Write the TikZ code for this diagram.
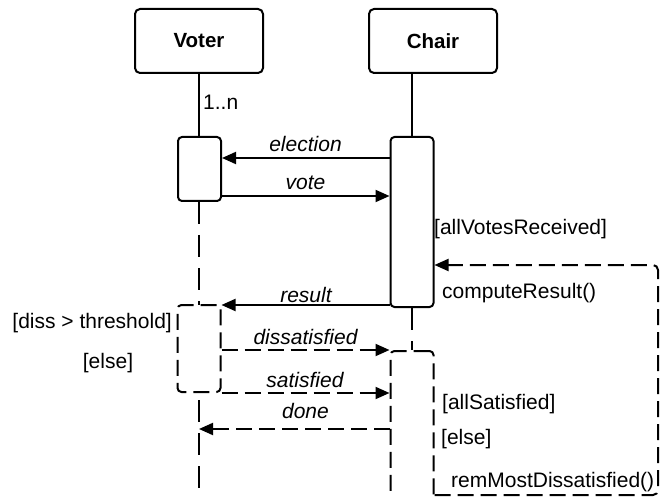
\documentclass[tikz,border=0pt]{standalone}
\usepackage{fontspec}
\setmainfont{Liberation Sans}
\usetikzlibrary{arrows.meta,backgrounds}
\newcommand\mysz{\fontsize{21}{25}\selectfont}
\begin{document}
\begin{tikzpicture}[x=1pt,y=-1pt,
  lw/.style={line width=2pt},
  obj/.style={draw,lw,rounded corners=5pt,minimum width=128pt,minimum height=64pt,inner sep=0pt,font=\fontsize{20.5}{24}\selectfont\bfseries},
  act/.style={draw,lw,rounded corners=4pt,fill=white,minimum width=43pt,inner sep=0pt},
  lbl/.style={font=\mysz,inner sep=0pt},
  msglbl/.style={font=\mysz\itshape,inner sep=0pt,anchor=base},
  life/.style={lw,dash pattern=on 22pt off 11pt},
  dsh/.style={lw,dash pattern=on 16pt off 7pt},
  tip/.style={-{Triangle[length=14pt,width=12pt]}}
]
\useasboundingbox (0,0) rectangle (664,497);
\clip (0,0) rectangle (664,497);

\node[obj] (v) at (199,41) {Voter};
\node[obj] (c) at (433,41) {Chair};
\node[act,minimum height=64pt] (va1) at (199.5,169) {};
\node[act,minimum height=170pt] (ca1) at (412,222) {};
\node[act,dsh,minimum height=87pt] (va2) at (199,348.5) {};
\node[act,dsh,minimum height=160pt] (ca2) at (412,431) {};

\begin{scope}[on background layer]
  \draw[lw] (v.south) -- (v.south |- va1.north);
  \draw[life] (v.south |- va1.south) -- (v.south |- 0,505);
  \draw[lw] (ca1.north |- c.south) -- (ca1.north);
  \draw[life] (ca1.south) -- (ca1.south |- ca2.north);
\end{scope}

% messages
\draw[lw,tip] (ca1.west |- 0,158) -- (va1.east |- 0,158);
\node[msglbl] (lelection) at (305.5,152) {election};
\draw[lw,tip] (va1.east |- 0,196) -- (ca1.west |- 0,196);
\node[msglbl] (lvote) at (305.5,190) {vote};
\draw[lw,tip] (ca1.west |- 0,305) -- (va2.east |- 0,305);
\node[msglbl] (lresult) at (306,302) {result};
\draw[dsh,tip] (va2.east |- ca2.north) -- (ca2.north west);
\node[msglbl] (ldiss) at (305.5,344) {dissatisfied};
\draw[dsh,tip] (va2.east |- 0,393) -- (ca2.west |- 0,393);
\node[msglbl] (lsat) at (305,387) {satisfied};
\draw[dsh,tip] (ca2.west |- 0,429) -- (v.south |- 0,429);
\node[msglbl] (ldone) at (305.5,418) {done};

% self loop
\coordinate (lb) at (658,495);
\coordinate (lt) at (658,265);
\draw[dsh,tip,rounded corners=5pt] (ca2.east |- lb) -- (lb) -- (lt) -- (ca1.east |- lt);

% labels
\node[lbl,anchor=base west] (mult) at (203,110) {1..n};
\node[lbl,anchor=base east] (gdiss) at (172,328) {[diss > threshold]};
\node[lbl,anchor=base] (gelse1) at (108,368) {[else]};
\node[lbl,anchor=base west] (gall) at (434,235) {[allVotesReceived]};
\node[lbl,anchor=base west] (comp) at (442,298) {computeResult()};
\node[lbl,anchor=base west] (gsat) at (442,409) {[allSatisfied]};
\node[lbl,anchor=base west] (gelse2) at (441,444) {[else]};
\node[lbl,anchor=base west] (rem) at (451,487) {remMostDissatisfied()};
\end{tikzpicture}
\end{document}
